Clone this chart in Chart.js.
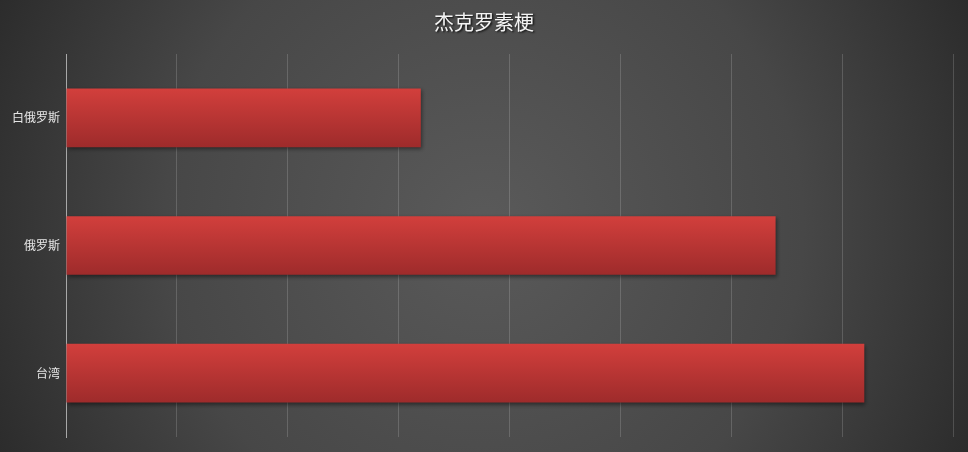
<!DOCTYPE html>
<html>
<head>
<meta charset="utf-8">
<script src="https://cdn.jsdelivr.net/npm/chart.js@4.4.1/dist/chart.umd.min.js"></script>
<style>
html,body{margin:0;padding:0;background:#333;}
#wrap{width:968px;height:452px;position:relative;}
</style>
</head>
<body>
<div id="wrap"><canvas id="c" width="968" height="452"></canvas></div>
<script>
const titleText = "杰克罗素梗";
const categories = ["白俄罗斯", "俄罗斯", "台湾"];
const values = [3.2, 6.4, 7.2];
const axisMax = 8;

const bgPlugin = {
  id: 'bg',
  beforeDraw(chart) {
    const ctx = chart.ctx, w = chart.width, h = chart.height;
    ctx.save();
    const g = ctx.createRadialGradient(w/2, h/2, 0, w/2, h/2, w*0.6);
    g.addColorStop(0, '#5a5a5a');
    g.addColorStop(0.55, '#474747');
    g.addColorStop(1, '#262626');
    ctx.fillStyle = g;
    ctx.fillRect(0, 0, w, h);
    ctx.restore();
  },
  afterDraw(chart) {
    const ctx = chart.ctx;
    ctx.save();
    ctx.font = '20px "Noto Sans CJK SC", "Noto Sans CJK TC", sans-serif';
    ctx.textAlign = 'center';
    ctx.textBaseline = 'middle';
    ctx.shadowColor = 'rgba(0,0,0,0.8)';
    ctx.shadowOffsetX = 1.5;
    ctx.shadowOffsetY = 1.5;
    ctx.shadowBlur = 2;
    ctx.fillStyle = '#f4f4f4';
    ctx.fillText(titleText, 484, 22);
    ctx.restore();
  }
};

const shadowPlugin = {
  id: 'barShadow',
  beforeDatasetsDraw(chart) {
    const ctx = chart.ctx;
    ctx.save();
    ctx.shadowColor = 'rgba(0,0,0,0.45)';
    ctx.shadowOffsetX = 1;
    ctx.shadowOffsetY = 2;
    ctx.shadowBlur = 4;
  },
  afterDatasetsDraw(chart) {
    chart.ctx.restore();
  }
};

new Chart(document.getElementById('c'), {
  type: 'bar',
  data: {
    labels: categories,
    datasets: [{
      data: values,
      backgroundColor(context) {
        const chart = context.chart;
        const ys = chart.scales && chart.scales.y;
        if (!chart.chartArea || !ys) return '#c23a37';
        const cy = ys.getPixelForValue(context.dataIndex);
        const band = (chart.chartArea.bottom - chart.chartArea.top) / categories.length;
        const half = band * 0.46 / 2;
        if (!isFinite(cy) || !isFinite(half)) return '#c23a37';
        const g = chart.ctx.createLinearGradient(0, cy - half, 0, cy + half);
        g.addColorStop(0, '#d23f3c');
        g.addColorStop(1, '#9e2b2b');
        return g;
      },
      borderWidth: 0,
      barPercentage: 0.46,
      categoryPercentage: 1.0
    }]
  },
  options: {
    indexAxis: 'y',
    responsive: false,
    animation: false,
    devicePixelRatio: 1,
    layout: { padding: { top: 54, right: 15, bottom: 15, left: 0 } },
    plugins: { legend: { display: false }, title: { display: false }, tooltip: { enabled: false } },
    scales: {
      x: {
        min: 0, max: axisMax,
        ticks: { display: false, stepSize: 1 },
        grid: { color: 'rgba(255,255,255,0.16)', drawTicks: false, lineWidth: 1 },
        border: { display: false }
      },
      y: {
        ticks: { color: '#e6e6e6', font: { size: 12, family: '"Noto Sans CJK SC", sans-serif' }, padding: 6 },
        grid: { display: false, drawTicks: false },
        border: { display: true, color: '#a8a8a8', width: 1 },
        afterFit(scale) { scale.width = 66; }
      }
    }
  },
  plugins: [bgPlugin, shadowPlugin]
});
</script>
</body>
</html>
